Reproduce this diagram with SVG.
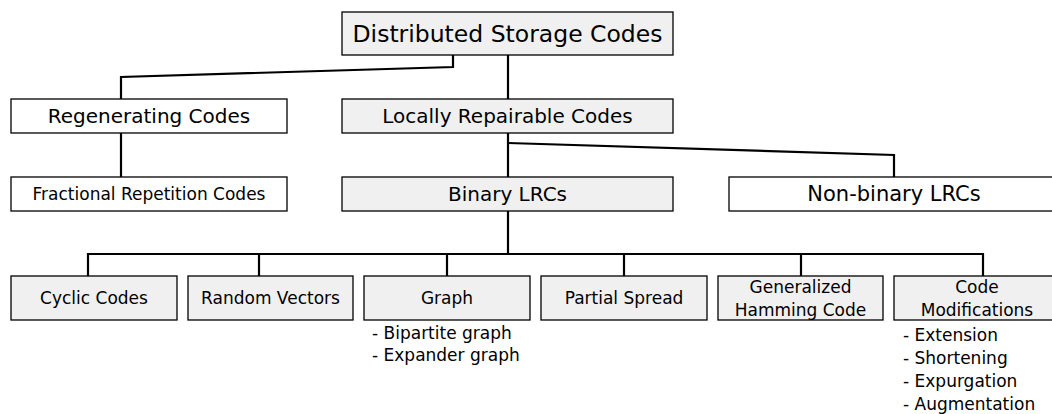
<svg xmlns="http://www.w3.org/2000/svg" width="1052" height="414" viewBox="0 0 1052 414">
<style>
.box{stroke:#000;stroke-width:1.3}
.g{fill:#f0f0f0}
.w{fill:#fff}
text{font-family:"DejaVu Sans","Liberation Sans",sans-serif;fill:#000;text-anchor:middle;dominant-baseline:central}
.sub{text-anchor:start;font-size:17px}
.s{font-size:17px}
.c{fill:none;stroke:#000;stroke-width:2.2}
</style>
<rect width="1052" height="414" fill="#fff"/>
<g id="connectors">
<polyline class="c" points="453,55 453,67 121,77 121,99"/>
<line class="c" x1="508" y1="55" x2="508" y2="99"/>
<line class="c" x1="121" y1="133" x2="121" y2="177"/>
<line class="c" x1="508" y1="133" x2="508" y2="177"/>
<polyline class="c" points="508,143 894,155 894,177"/>
<line class="c" x1="508" y1="211" x2="508" y2="254"/>
<polyline class="c" points="88,276 88,254 983,254 983,276"/>
<line class="c" x1="259" y1="254" x2="259" y2="276"/>
<line class="c" x1="447" y1="254" x2="447" y2="276"/>
<line class="c" x1="624" y1="254" x2="624" y2="276"/>
<line class="c" x1="801" y1="254" x2="801" y2="276"/>
</g>
<g id="dsc"><rect class="box g" x="342" y="12" width="331" height="43"/><text x="507.5" y="34" font-size="23.5">Distributed Storage Codes</text></g>
<g id="regen"><rect class="box w" x="11" y="99" width="276" height="34"/><text x="149" y="116" font-size="20">Regenerating Codes</text></g>
<g id="lrc"><rect class="box g" x="342" y="99" width="331" height="34"/><text x="507.5" y="116" font-size="20">Locally Repairable Codes</text></g>
<g id="frac"><rect class="box w" x="11" y="177" width="276" height="34"/><text x="149" y="194" font-size="17">Fractional Repetition Codes</text></g>
<g id="binary"><rect class="box g" x="342" y="177" width="331" height="34"/><text x="507.5" y="194" font-size="20">Binary LRCs</text></g>
<g id="nonbinary"><rect class="box w" x="729" y="177" width="331" height="34"/><text x="894" y="194" font-size="21">Non-binary LRCs</text></g>
<g id="cyclic"><rect class="box g" x="11" y="276" width="166" height="44"/><text class="s" x="94" y="298">Cyclic Codes</text></g>
<g id="random"><rect class="box g" x="188" y="276" width="165" height="44"/><text class="s" x="270.5" y="298">Random Vectors</text></g>
<g id="graph"><rect class="box g" x="364" y="276" width="166" height="44"/><text class="s" x="447" y="298">Graph</text>
<text class="sub" x="372" y="333">- Bipartite graph</text><text class="sub" x="372" y="355">- Expander graph</text></g>
<g id="partial"><rect class="box g" x="541" y="276" width="166" height="44"/><text class="s" x="624" y="298">Partial Spread</text></g>
<g id="hamming"><rect class="box g" x="718" y="276" width="165" height="44"/><text class="s" x="800.5" y="287">Generalized</text><text class="s" x="800.5" y="310">Hamming Code</text></g>
<g id="codemod"><rect class="box g" x="894" y="276" width="166" height="44"/><text class="s" x="977" y="287">Code</text><text class="s" x="977" y="310">Modifications</text>
<text class="sub" x="903" y="335">- Extension</text><text class="sub" x="903" y="358">- Shortening</text><text class="sub" x="903" y="381">- Expurgation</text><text class="sub" x="903" y="404">- Augmentation</text></g>
</svg>
